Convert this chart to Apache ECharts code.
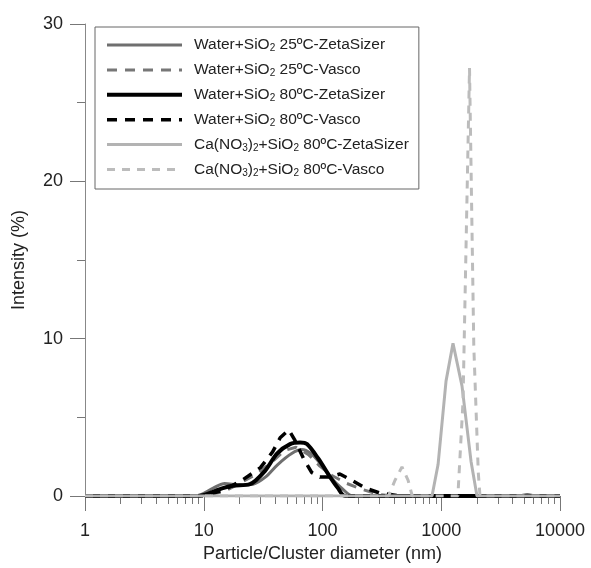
<!DOCTYPE html>
<html>
<head>
<meta charset="utf-8">
<script src="https://cdn.jsdelivr.net/npm/echarts@6/dist/echarts.min.js"></script>
<style>html,body{margin:0;padding:0;background:#fff}#c{width:591px;height:568px}</style>
</head>
<body>
<div id="c"></div>
<script>
// Series names (legend order)
const seriesNames = [
  'Water+SiO2 25ºC-ZetaSizer',
  'Water+SiO2 25ºC-Vasco',
  'Water+SiO2 80ºC-ZetaSizer',
  'Water+SiO2 80ºC-Vasco',
  'Ca(NO3)2+SiO2 80ºC-ZetaSizer',
  'Ca(NO3)2+SiO2 80ºC-Vasco'
];
// [diameter nm, intensity %]
const water25Zeta = [[1,0],[8.5,0],[12,0.5],[15,0.8],[20,0.7],[26,0.75],[33,1.2],[42,2.0],[55,2.7],[67,2.95],[80,2.7],[95,2.1],[120,1.1],[145,0.5],[180,0],[4500,0],[5300,0.1],[6200,0],[10000,0]];
const water25Vasco = [[1,0],[10,0],[15,0.3],[20,0.8],[28,1.4],[38,2.2],[48,2.9],[60,3.1],[77,2.6],[95,1.9],[120,1.3],[160,0.8],[220,0.4],[300,0.1],[400,0],[10000,0]];
const water80Zeta = [[1,0],[8.8,0],[14.5,0.5],[17.6,0.65],[24.5,0.75],[32.8,1.6],[41.4,2.7],[53.3,3.3],[64.7,3.4],[74,3.3],[91.7,2.4],[116,1.2],[135,0.5],[155,0],[10000,0]];
const water80Vasco = [[1,0],[10,0],[15,0.4],[21,1.0],[30,1.8],[38,2.8],[44,3.7],[52,4.2],[58,3.6],[69,2.4],[81,1.5],[95,1.2],[115,1.2],[140,1.4],[176,1.0],[230,0.5],[300,0.2],[450,0],[10000,0]];
const caZeta = [[1,0],[836,0],[940,2],[1097,7.3],[1256,9.7],[1495,7.0],[1782,2.2],[2000,0],[10000,0]];
const caVasco = [[1,0],[360,0],[408,1.0],[467,1.85],[526,1.0],[570,0],[1380,0],[1525,6],[1730,27.2],[1880,9.5],[2050,1.5],[2120,0],[10000,0]];
// Tick values
const xMajorTicks = [1,10,100,1000,10000];
const xMinorTicks = [2,3,4,5,6,7,8,9,20,30,40,50,60,70,80,90,200,300,400,500,600,700,800,900,2000,3000,4000,5000,6000,7000,8000,9000];
const yTicks = [0,10,20,30];

const FONT = 'Liberation Sans, Arial, sans-serif';
const chart = echarts.init(document.getElementById('c'), null, {renderer:'canvas'});

function richName(n){
  return n.replace('(NO3)2', '{a|(NO}{s|3}{a|)}{s|2}').replace(/^Water\+SiO2/, '{a|Water+SiO}{s|2}')
          .replace('+SiO2', '{a|+SiO}{s|2}')
          .replace(/( [0-9]+ºC-.*)$/, '{a|$1}')
          .replace(/^Ca/, '{a|Ca}');
}

const dataSets = [water25Zeta, water25Vasco, water80Zeta, water80Vasco, caZeta, caVasco];
const styles = [
  {color:'#6f6f6f', width:3, type:'solid', smooth:0.3},
  {color:'#777777', width:3, type:[10,8], smooth:false},
  {color:'#000000', width:4, type:'solid', smooth:0.3},
  {color:'#000000', width:3.5, type:[10,8], smooth:false},
  {color:'#b3b3b3', width:3, type:'solid', smooth:false},
  {color:'#bcbcbc', width:3, type:[8,7], smooth:false}
];

const series = dataSets.map((d,i)=>({
  name: seriesNames[i],
  type:'line',
  xAxisIndex:0,
  data:d,
  symbol:'none',
  smooth: styles[i].smooth,
  color: styles[i].color,
  lineStyle:{color:styles[i].color, width:styles[i].width, type:styles[i].type},
  z: 2+i
}));

chart.setOption({
  animation:false,
  backgroundColor:'#fff',
  textStyle:{fontFamily:FONT},
  grid:{left:85, right:31, top:24, bottom:71, containLabel:false},
  legend:{
    orient:'vertical', left:95, top:27,
    padding:[10,10,11,10],
    itemWidth:75, itemHeight:14, itemGap:8.4,
    borderColor:'#666', borderWidth:1,
    itemStyle:{opacity:0},
    data: seriesNames.map((n,i)=>({name:n, lineStyle:{width:styles[i].width, type:styles[i].type, color:styles[i].color}})),
    formatter: n => richName(n),
    textStyle:{
      fontFamily:FONT, fontSize:15.5, color:'#222', padding:[0,0,0,7],
      rich:{
        a:{fontFamily:FONT, fontSize:15.5, color:'#222'},
        s:{fontFamily:FONT, fontSize:10, color:'#222', padding:[7,0,0,0]}
      }
    }
  },
  xAxis:[
    {
      type:'log', logBase:10, min:1, max:10000, position:'bottom',
      axisLine:{onZero:false, lineStyle:{color:'#888', width:1}},
      axisTick:{show:true, length:15, inside:false, lineStyle:{color:'#777'}, customValues: xMajorTicks},
      axisLabel:{fontFamily:FONT, fontSize:18, color:'#222', margin:26, customValues: xMajorTicks, formatter: v => String(Math.round(v))},
      splitLine:{show:false},
      minorTick:{show:false},
      name:'Particle/Cluster diameter (nm)', nameLocation:'middle', nameGap:49,
      nameTextStyle:{fontFamily:FONT, fontSize:18, color:'#222'}
    },
    {
      type:'log', logBase:10, min:1, max:10000, position:'bottom',
      axisLine:{show:false},
      axisTick:{show:true, length:8, lineStyle:{color:'#777'}, customValues: xMinorTicks},
      axisLabel:{show:false},
      splitLine:{show:false}
    }
  ],
  yAxis:{
    type:'value', min:0, max:30, interval:10,
    axisLine:{show:true, lineStyle:{color:'#888', width:1}},
    axisTick:{show:true, length:15, lineStyle:{color:'#777'}},
    minorTick:{show:true, splitNumber:2, length:8, lineStyle:{color:'#777'}},
    axisLabel:{fontFamily:FONT, fontSize:18, color:'#222', margin:22, customValues: yTicks},
    splitLine:{show:false},
    minorSplitLine:{show:false},
    name:'Intensity (%)', nameLocation:'middle', nameGap:57,
    nameTextStyle:{fontFamily:FONT, fontSize:18, color:'#222'}
  },
  series: series
});
</script>
</body>
</html>
